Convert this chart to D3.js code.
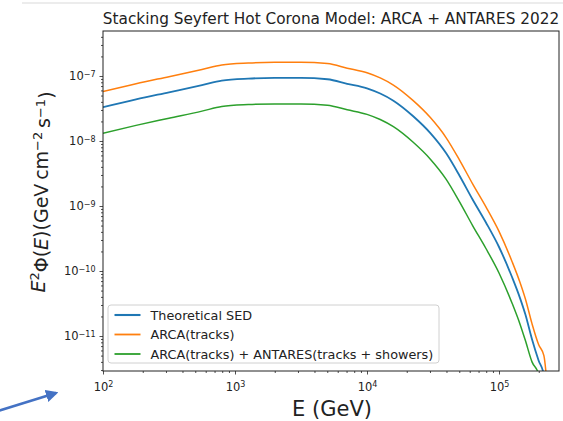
<!DOCTYPE html>
<html>
<head>
<meta charset="utf-8">
<script src="https://cdn.jsdelivr.net/npm/d3@7"></script>
<style>
  body { margin: 0; background: #fff; }
  svg { display: block; font-family: "DejaVu Sans", sans-serif; }
</style>
</head>
<body>
<div id="chart"></div>
<script>
var svgWidth = 563;
var svgHeight = 421;

var margin = { top: 31, right: 4, bottom: 50, left: 103 };
var chartWidth = svgWidth - margin.left - margin.right;
var chartHeight = svgHeight - margin.top - margin.bottom;

// energy grid (GeV)
var energy = [100, 178, 316, 562, 794, 1259, 1995, 3162, 5012, 7079, 10000, 12590, 15850,
    22390, 30200, 39810, 50120, 63100, 79430, 100000, 125900, 144500, 158500, 177800,
    199500, 218800, 234400];

// E^2 Phi values per series
var theoreticalSED = [3.31e-8, 4.37e-8, 5.62e-8, 7.24e-8, 8.51e-8, 9.12e-8, 9.33e-8, 9.33e-8,
    8.91e-8, 7.59e-8, 6.46e-8, 5.37e-8, 4.17e-8, 2.40e-8, 1.32e-8, 6.46e-9, 2.95e-9,
    1.26e-9, 5.62e-10, 2.34e-10, 7.94e-11, 3.80e-11, 2.14e-11, 8.91e-12, 4.2e-12,
    2.5e-12, 5e-13];
var arcaTracks = [5.75e-8, 7.59e-8, 9.77e-8, 1.26e-7, 1.48e-7, 1.58e-7, 1.62e-7, 1.62e-7,
    1.55e-7, 1.32e-7, 1.12e-7, 9.33e-8, 7.24e-8, 4.17e-8, 2.29e-8, 1.12e-8, 5.13e-9,
    2.19e-9, 9.77e-10, 4.07e-10, 1.38e-10, 6.61e-11, 3.72e-11, 1.55e-11, 7.4e-12,
    5.0e-12, 1.3e-12];
var arcaAntares = [1.32e-8, 1.74e-8, 2.24e-8, 2.88e-8, 3.39e-8, 3.63e-8, 3.72e-8, 3.72e-8,
    3.55e-8, 3.02e-8, 2.57e-8, 2.14e-8, 1.66e-8, 9.55e-9, 5.25e-9, 2.57e-9, 1.17e-9,
    5.01e-10, 2.24e-10, 9.33e-11, 3.16e-11, 1.51e-11, 8.51e-12, 4.0e-12, 2.6e-12,
    6e-13, 1e-13];

var seriesNames = ["Theoretical SED", "ARCA(tracks)", "ARCA(tracks) + ANTARES(tracks + showers)"];
var seriesColors = ["#1f77b4", "#ff7f0e", "#2ca02c"];
var seriesWidths = [1.8, 1.5, 1.5];

var xTickExp = [2, 3, 4, 5];
var yTickExp = [-11, -10, -9, -8, -7];

var svg = d3.select("#chart")
    .append("svg")
    .attr("width", svgWidth)
    .attr("height", svgHeight);

// faint band along the top of the screenshot
svg.append("rect")
    .attr("x", 22).attr("y", 2)
    .attr("width", svgWidth - 22).attr("height", 2)
    .attr("fill", "#ececec");

var chartGroup = svg.append("g")
    .attr("transform", `translate(${margin.left}, ${margin.top})`);

var xScale = d3.scaleLog()
    .domain([100, Math.pow(10, 5.4545)])
    .range([0, chartWidth]);
var yScale = d3.scaleLog()
    .domain([Math.pow(10, -11.538), Math.pow(10, -6.308)])
    .range([chartHeight, 0]);

chartGroup.append("clipPath")
    .attr("id", "clip")
    .append("rect")
    .attr("width", chartWidth)
    .attr("height", chartHeight);

// minor ticks
var xMinor = [];
for (var e = 2; e <= 5; e++) {
    for (var m = 2; m <= 9; m++) {
        var v = m * Math.pow(10, e);
        if (v < xScale.domain()[1]) xMinor.push(v);
    }
}
var yMinor = [];
for (var e2 = -12; e2 <= -7; e2++) {
    for (var m2 = 2; m2 <= 9; m2++) {
        var v2 = m2 * Math.pow(10, e2);
        if (v2 > yScale.domain()[0] && v2 < yScale.domain()[1]) yMinor.push(v2);
    }
}

chartGroup.append("g")
    .attr("transform", `translate(0, ${chartHeight})`)
    .call(d3.axisBottom(xScale).tickValues(xMinor).tickSize(2).tickFormat(""))
    .call(g => g.select(".domain").remove());
chartGroup.append("g")
    .call(d3.axisLeft(yScale).tickValues(yMinor).tickSize(2).tickFormat(""))
    .call(g => g.select(".domain").remove());

// major ticks with 10^n labels
function supLabel(sel, exps) {
    sel.selectAll(".tick text").each(function(d, i) {
        var t = d3.select(this).text("");
        t.append("tspan").text("10");
        t.append("tspan")
            .attr("dy", "-0.45em")
            .attr("font-size", "8px")
            .text(String(exps[i]).replace("-", "\u2212"));
    });
}

var xAxis = chartGroup.append("g")
    .attr("transform", `translate(0, ${chartHeight})`)
    .call(d3.axisBottom(xScale).tickValues(xTickExp.map(d => Math.pow(10, d))).tickSize(3.5).tickPadding(8))
    .call(g => g.select(".domain").remove());
xAxis.selectAll(".tick text").attr("font-size", "11.5px").attr("fill", "#222").attr("font-family", "DejaVu Sans");
supLabel(xAxis, xTickExp);

var yAxis = chartGroup.append("g")
    .call(d3.axisLeft(yScale).tickValues(yTickExp.map(d => Math.pow(10, d))).tickSize(3.5).tickPadding(4))
    .call(g => g.select(".domain").remove());
yAxis.selectAll(".tick text").attr("font-size", "11.5px").attr("fill", "#222").attr("font-family", "DejaVu Sans");
supLabel(yAxis, yTickExp);

chartGroup.selectAll(".tick line").attr("stroke", "#222").attr("stroke-width", 0.8);

// curves
var allSeries = [theoreticalSED, arcaTracks, arcaAntares];
var line = d3.line()
    .x((d, i) => xScale(energy[i]))
    .y(d => yScale(d))
    .curve(d3.curveMonotoneX);

chartGroup.append("g")
    .attr("clip-path", "url(#clip)")
    .selectAll("path")
    .data(allSeries)
    .enter()
    .append("path")
    .attr("d", line)
    .attr("fill", "none")
    .attr("stroke", (d, i) => seriesColors[i])
    .attr("stroke-width", (d, i) => seriesWidths[i]);

// frame
chartGroup.append("rect")
    .attr("width", chartWidth)
    .attr("height", chartHeight)
    .attr("fill", "none")
    .attr("stroke", "#222")
    .attr("stroke-width", 1);

// legend
var legend = chartGroup.append("g")
    .attr("transform", "translate(5, 274)");
legend.append("rect")
    .attr("width", 331)
    .attr("height", 58)
    .attr("rx", 3)
    .attr("fill", "#fff")
    .attr("fill-opacity", 0.85)
    .attr("stroke", "#d0d0d0");
seriesNames.forEach(function(name, i) {
    var yy = 10 + i * 19.5;
    legend.append("line")
        .attr("x1", 6.5).attr("x2", 32.5)
        .attr("y1", yy).attr("y2", yy)
        .attr("stroke", seriesColors[i])
        .attr("stroke-width", seriesWidths[i] + 0.3);
    legend.append("text")
        .attr("x", 42.5)
        .attr("y", yy + 4.5)
        .attr("font-size", "12.8px")
        .attr("fill", "#222")
        .text(name);
});

// title
svg.append("text")
    .attr("x", margin.left + chartWidth / 2)
    .attr("y", 24)
    .attr("text-anchor", "middle")
    .attr("font-size", "15.3px")
    .attr("fill", "#222")
    .text("Stacking Seyfert Hot Corona Model: ARCA + ANTARES 2022");

// axis labels
svg.append("text")
    .attr("x", margin.left + 229)
    .attr("y", 416)
    .attr("text-anchor", "middle")
    .attr("font-size", "21px")
    .attr("fill", "#222")
    .text("E (GeV)");

var yLabel = svg.append("text")
    .attr("transform", "translate(45, 192) rotate(-90)")
    .attr("text-anchor", "middle")
    .attr("font-size", "19px")
    .attr("fill", "#222");
yLabel.append("tspan").attr("font-style", "italic").text("E");
yLabel.append("tspan").attr("dy", "-0.45em").attr("font-size", "13px").text("2");
yLabel.append("tspan").attr("dy", "0.45em").text("\u03A6(");
yLabel.append("tspan").attr("font-style", "italic").text("E");
yLabel.append("tspan").text(")(GeV\u2009cm");
yLabel.append("tspan").attr("dy", "-0.45em").attr("font-size", "13px").text("\u22122");
yLabel.append("tspan").attr("dy", "0.45em").text("\u2009s");
yLabel.append("tspan").attr("dy", "-0.45em").attr("font-size", "13px").text("\u22121");
yLabel.append("tspan").attr("dy", "0.45em").text(")");

// annotation arrow in the lower left
var defs = svg.append("defs");
defs.append("marker")
    .attr("id", "arrowHead")
    .attr("viewBox", "0 0 10 10")
    .attr("refX", 8).attr("refY", 5)
    .attr("markerWidth", 5).attr("markerHeight", 5)
    .attr("markerUnits", "strokeWidth")
    .attr("orient", "auto")
    .append("path")
    .attr("d", "M0,0 L10,5 L0,10 z")
    .attr("fill", "#4472c4");
svg.append("line")
    .attr("x1", -2).attr("y1", 411)
    .attr("x2", 56).attr("y2", 393)
    .attr("stroke", "#4472c4")
    .attr("stroke-width", 2.5)
    .attr("marker-end", "url(#arrowHead)");
</script>
</body>
</html>
